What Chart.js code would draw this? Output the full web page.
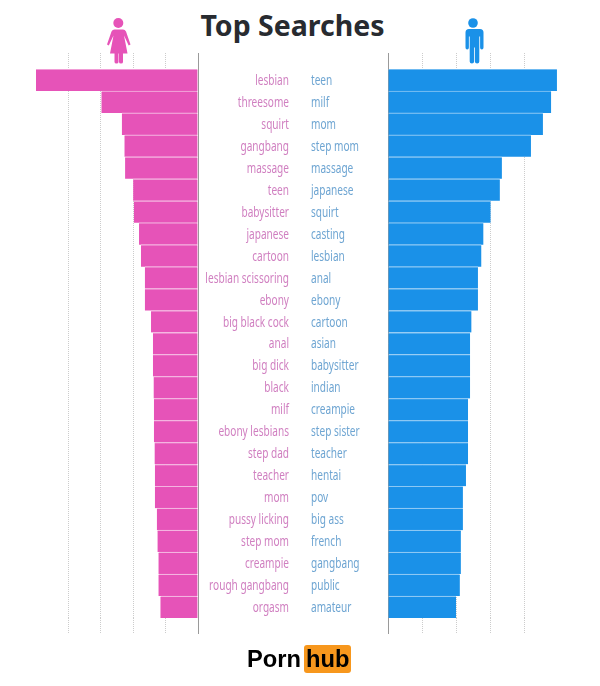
<!DOCTYPE html>
<html>
<head>
<meta charset="utf-8">
<style>
  html, body { margin: 0; padding: 0; background: #fff; }
  #page { position: relative; width: 600px; height: 686px; overflow: hidden; }
  canvas { position: absolute; top: 0; }
  #title { position: absolute; left: 0; top: 6px; width: 585px; text-align: center;
    font: bold 28.5px "Noto Sans", sans-serif; color: #282b30; }
  svg { position: absolute; top: 0; }
  #logo { position: absolute; left: 247px; top: 645px; height: 28px;
    font: bold 23.7px/28px "Liberation Sans", sans-serif; color: #000; white-space: nowrap; }
  #logo span { display: inline-block; margin-left: 3px; padding: 0 2px; background: #f7971d; border-radius: 3px; }
</style>
</head>
<body>
<div id="page">
  <div id="title">Top Searches</div>
  <svg width="600" height="70">
    <g fill="#e653b8">
      <circle cx="118.3" cy="23" r="5"/>
      <path d="M113.500 29.500h9.500q2 0 3 2l4.500 13-1.800 1-4.700-10 3.500 18h-4.500v8.500q0 1.500-2 1.500t-2-1.500v-8.500h-.5v8.500q0 1.500-2 1.500t-2-1.500v-8.500h-4.500l3.500-18-4.700 10-1.800-1 4.500-13q1-2 3-2z"/>
    </g>
    <g fill="#1a91e8">
      <circle cx="473" cy="23" r="4.800"/>
      <path d="M466 29h14q3.500 0 3.500 3.500v15q0 2-1.700 2t-1.700-2v-11h-.8v25q0 2-2.200 2t-2.200-2v-14h-.8v14q0 2-2.200 2t-2.200-2v-25h-.8v11q0 2-1.700 2t-1.700-2v-15q0-3.500 3.500-3.500z"/>
    </g>
  </svg>
  <canvas id="womenChart" width="300" height="686" style="left:0"></canvas>
  <canvas id="menChart" width="300" height="686" style="left:300px"></canvas>
  <div id="logo">Porn<span>hub</span></div>
</div>

<script src="https://cdn.jsdelivr.net/npm/chart.js@4/dist/chart.umd.min.js"></script>
<script>
// values are in gridline units, the original axis has no printed numbers
const womenTerms = ['lesbian', 'threesome', 'squirt', 'gangbang', 'massage', 'teen', 'babysitter',
  'japanese', 'cartoon', 'lesbian scissoring', 'ebony', 'big black cock', 'anal', 'big dick', 'black',
  'milf', 'ebony lesbians', 'step dad', 'teacher', 'mom', 'pussy licking', 'step mom', 'creampie',
  'rough gangbang', 'orgasm'];
const womenValues = [5.0, 2.98, 2.35, 2.27, 2.25, 2.0, 1.98, 1.82, 1.76, 1.64, 1.64, 1.45, 1.39, 1.39,
  1.37, 1.36, 1.36, 1.34, 1.33, 1.33, 1.27, 1.25, 1.22, 1.22, 1.16];

const menTerms = ['teen', 'milf', 'mom', 'step mom', 'massage', 'japanese', 'squirt', 'casting', 'lesbian',
  'anal', 'ebony', 'cartoon', 'asian', 'babysitter', 'indian', 'creampie', 'step sister', 'teacher',
  'hentai', 'pov', 'big ass', 'french', 'gangbang', 'public', 'amateur'];
const menValues = [4.94, 4.77, 4.53, 4.18, 3.33, 3.27, 3.0, 2.79, 2.73, 2.63, 2.63, 2.44, 2.4, 2.4, 2.4,
  2.34, 2.34, 2.34, 2.28, 2.19, 2.19, 2.13, 2.13, 2.1, 1.99];

const axisMax = 5;
const labelFont = '14px "Noto Sans", sans-serif';
const labelSqueeze = 0.72; // no condensed font installed, so squeeze the labels by hand

// zero line is solid grey, the others light and dotted, the one at the scale end is hidden
function gridColor(ctx) {
  if (ctx.tick.value === 0) return '#9a9a9a';
  if (ctx.tick.value === axisMax) return 'rgba(0,0,0,0)';
  return '#cccccc';
}
function gridDash(ctx) {
  return ctx.tick.value === 0 ? [] : [1, 1];
}

function xAxis(position, reverse) {
  return {
    type: 'linear',
    position: position,
    reverse: reverse,
    min: 0,
    max: axisMax,
    border: { display: false, dash: gridDash },
    ticks: { display: false, stepSize: 1 },
    grid: {
      color: gridColor,
      tickColor: gridColor,
      tickBorderDash: gridDash,
      lineWidth: 1,
      tickLength: 16
    }
  };
}

// draws the category labels from the y scale's own tick positions
function narrowLabels(labelX, align, color) {
  return {
    id: 'narrowLabels',
    afterDraw(chart) {
      const yScale = chart.scales.y;
      const c = chart.ctx;
      yScale.getTicks().forEach((tick, i) => {
        c.save();
        c.translate(labelX, yScale.getPixelForTick(i) + 1);
        c.scale(labelSqueeze, 1);
        c.font = labelFont;
        c.fillStyle = color;
        c.textAlign = align;
        c.textBaseline = 'middle';
        c.fillText(yScale.getLabelForValue(tick.value), 0, 0);
        c.restore();
      });
    }
  };
}

function makeChart(id, terms, values, barColor, seamColor, labelPlugin, opts) {
  return new Chart(document.getElementById(id), {
    type: 'bar',
    data: {
      labels: terms,
      datasets: [{
        data: values,
        backgroundColor: barColor,
        borderColor: seamColor,
        borderWidth: { top: 1.2, right: 0, bottom: 0, left: 0 },
        borderSkipped: false,
        barPercentage: 1,
        categoryPercentage: 1,
        xAxisID: 'x',
        yAxisID: 'y'
      }]
    },
    options: {
      indexAxis: 'y',
      responsive: false,
      animation: false,
      layout: { padding: opts.padding },
      plugins: { legend: { display: false }, tooltip: { enabled: false } },
      scales: {
        x: xAxis('bottom', opts.reverse),
        xTop: xAxis('top', opts.reverse),
        y: {
          position: opts.yPosition,
          border: { display: false },
          grid: { display: false },
          ticks: { autoSkip: false, display: false },
          afterFit(scale) { scale.width = opts.yWidth; }
        }
      }
    },
    plugins: [labelPlugin]
  });
}

makeChart('womenChart', womenTerms, womenValues, '#e653b8', '#f4b4e0',
  narrowLabels(289, 'right', '#d07fc0'), {
    reverse: true, yPosition: 'right', yWidth: 102,
    padding: { left: 36, right: 0, top: 53, bottom: 52 }
  });
makeChart('menChart', menTerms, menValues, '#1a91e8', '#8cc8f4',
  narrowLabels(11, 'left', '#6ea5d2'), {
    reverse: false, yPosition: 'left', yWidth: 88,
    padding: { left: 0, right: 41, top: 53, bottom: 52 }
  });
</script>
</body>
</html>
